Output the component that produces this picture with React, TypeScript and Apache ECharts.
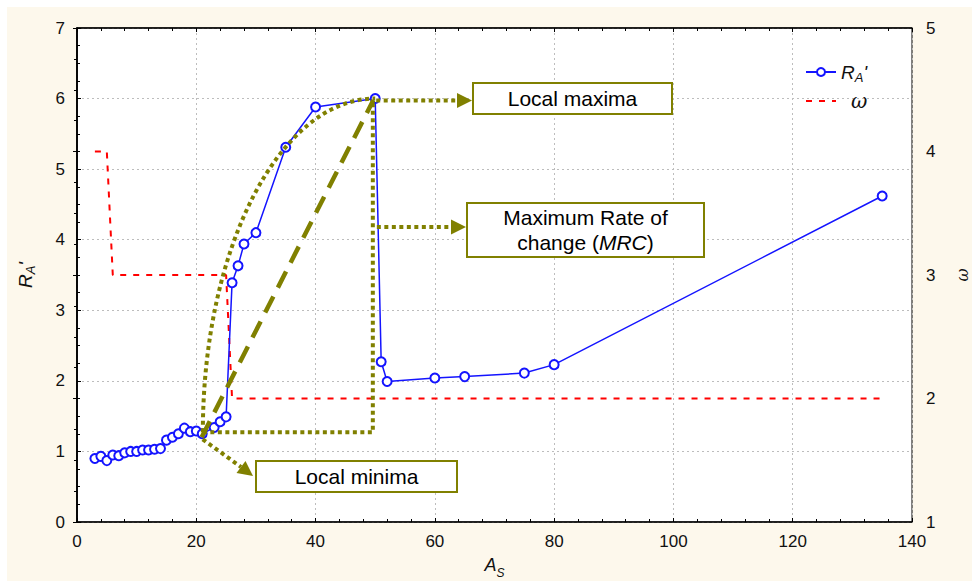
import React, { useEffect, useRef } from "react";
import * as echarts from "echarts";

// ---- data ----
const asValues = [3, 4, 5, 6, 7, 8, 9, 10, 11, 12, 13, 14, 15, 16, 17, 18, 19, 20, 21, 23, 24, 25, 26, 27, 28, 30, 35, 40, 50, 51, 52, 60, 65, 75, 80, 135];
const raValues = [0.9, 0.93, 0.87, 0.95, 0.94, 0.98, 1.0, 1.0, 1.02, 1.02, 1.03, 1.04, 1.16, 1.2, 1.25, 1.33, 1.28, 1.29, 1.25, 1.34, 1.42, 1.49, 3.39, 3.63, 3.94, 4.1, 5.31, 5.88, 6.0, 2.27, 1.99, 2.04, 2.06, 2.11, 2.23, 4.62];
const omegaX = [3, 5, 6, 25, 26, 135];
const omegaValues = [4, 4, 3, 3, 2, 2];

const xRange = [0, 140];
const leftRange = [0, 7];
const rightRange = [1, 5];

const annotationLabels = ["Local maxima", "Maximum Rate of\nchange ({it|MRC})", "Local minima"];

// annotation anchors in data coordinates
const localMinAnchor = [21.1, 1.27];
const localMaxAnchor = [50, 6.0];
const rectRightX = 49.6;
const dashStart = [20.9, 1.2];
const dashEnd = [49.7, 5.98];

const FONT = '"Liberation Sans", Arial, sans-serif';
const OLIVE = "#808000";

const richStyles = {
  i: { fontStyle: "italic", fontSize: 19, fontFamily: FONT, color: "#111", lineHeight: 24 },
  sub: { fontStyle: "italic", fontSize: 13, fontFamily: FONT, color: "#111", verticalAlign: "bottom", lineHeight: 24, padding: [9, 0, 0, 0] },
  o: { fontStyle: "italic", fontSize: 20, fontFamily: "DejaVu Serif, serif", color: "#111", lineHeight: 24, padding: [0, 0, 0, 10] },
};
const xNameRich = {
  i: { fontStyle: "italic", fontSize: 18, fontFamily: FONT, color: "#111", lineHeight: 18, verticalAlign: "top" },
  sub: { fontStyle: "italic", fontSize: 12, fontFamily: FONT, color: "#111", lineHeight: 23, verticalAlign: "bottom" },
};

export default function App() {
  const ref = useRef<HTMLDivElement>(null);
  useEffect(() => {
    document.body.style.margin = "0";
    const chart = echarts.init(ref.current!, null, { renderer: "svg", width: 972, height: 581 });
    const axisLabel = { fontSize: 17, fontFamily: FONT, color: "#111" };
    const axisLine = { show: true, lineStyle: { color: "#000", width: 1.5 } };
    const splitLine = { show: true, lineStyle: { color: "#bdbdbd", type: [2, 3], width: 1 } };
    const tick = { show: true, inside: true, length: 4, lineStyle: { color: "#000", width: 1 } };
    const minor = (n: number) => ({ show: true, splitNumber: n, length: 3, lineStyle: { color: "#000", width: 1 } });

    const option: any = {
      animation: false,
      grid: {
        left: 77, right: 60, top: 28, bottom: 59, show: true, backgroundColor: "#fff", borderColor: "#000", borderWidth: 1,
        containLabel: false, outerBoundsMode: "none",
      },
      legend: {
        left: 800,
        top: 57,
        orient: "vertical",
        itemWidth: 30,
        itemHeight: 10,
        itemGap: 7,
        data: [{ name: "RA" }, { name: "omega", itemStyle: { opacity: 0 } }],
        formatter: (name: string) => (name === "RA" ? "{i|R}{sub|A}{i|'}" : "{o|ω}"),
        textStyle: { rich: richStyles },
      },
      xAxis: [
        {
          type: "value", min: xRange[0], max: xRange[1], interval: 20, position: "bottom",
          axisLine, axisTick: tick, minorTick: minor(5), splitLine,
          axisLabel: { ...axisLabel, margin: 11 },
          name: "{i|A}{sub|S}", nameLocation: "middle", nameGap: 34,
          nameTextStyle: { rich: xNameRich, verticalAlign: "top" },
        },
        {
          type: "value", min: xRange[0], max: xRange[1], interval: 20, position: "top",
          axisLine, axisTick: tick, minorTick: minor(5), splitLine: { show: false },
          axisLabel: { show: false },
        },
      ],
      yAxis: [
        {
          type: "value", min: leftRange[0], max: leftRange[1], interval: 1, position: "left",
          axisLine, axisTick: tick, minorTick: minor(4), splitLine,
          axisLabel: { ...axisLabel, margin: 12 },
          name: "{i|R}{sub|A}{i|'}", nameLocation: "middle", nameGap: 40, nameRotate: 90,
          nameTextStyle: { rich: richStyles },
        },
        {
          type: "value", min: rightRange[0], max: rightRange[1], interval: 1, position: "right",
          axisLine, axisTick: tick, minorTick: minor(4), splitLine: { show: false },
          axisLabel: { ...axisLabel, margin: 14 },
          name: "{o|ω}", nameLocation: "middle", nameGap: 38, nameRotate: 90,
          nameTextStyle: { rich: { o: { ...richStyles.o, padding: 0, fontSize: 16 } } },
        },
      ],
      series: [
        {
          name: "RA", type: "line", xAxisIndex: 0, yAxisIndex: 0,
          data: asValues.map((x, i) => [x, raValues[i]]),
          symbol: "emptyCircle", symbolSize: 9, color: "#1414ff",
          itemStyle: { borderWidth: 1.5, borderColor: "#1414ff" },
          lineStyle: { color: "#1414ff", width: 1.5 },
          z: 3,
        },
        {
          name: "omega", type: "line", xAxisIndex: 0, yAxisIndex: 1,
          data: omegaX.map((x, i) => [x, omegaValues[i]]),
          symbol: "none", color: "#ff0000",
          lineStyle: { color: "#ff0000", width: 2, type: [6, 7] },
          z: 2,
        },
      ],
    };
    chart.setOption(option);

    const p = (x: number, y: number) => chart.convertToPixel({ xAxisIndex: 0, yAxisIndex: 0 }, [x, y]) as number[];
    const [sx, sy] = p(localMinAnchor[0], localMinAnchor[1]);
    const [ex, ey] = p(localMaxAnchor[0], localMaxAnchor[1]);
    const [rx] = p(rectRightX, 0);
    const [dsx, dsy] = p(dashStart[0], dashStart[1]);
    const [dex, dey] = p(dashEnd[0], dashEnd[1]);
    const k = 0.5523;

    const dotted = { stroke: OLIVE, lineWidth: 4, lineDash: [4, 3.5], fill: null };
    const head = (tx: number, ty: number, dx: number, dy: number, len = 15, half = 7.5) => {
      const n = Math.hypot(dx, dy);
      const ux = dx / n, uy = dy / n;
      const bx = tx - ux * len, by = ty - uy * len;
      return {
        type: "polygon", z: 100,
        shape: { points: [[tx, ty], [bx - uy * half, by + ux * half], [bx + uy * half, by - ux * half]] },
        style: { fill: OLIVE },
      };
    };
    const box = (x: number, y: number, w: number, h: number, text: string) => [
      { type: "rect", z: 100, shape: { x, y, width: w, height: h }, style: { fill: "#fff", stroke: OLIVE, lineWidth: 2 } },
      {
        type: "text", z: 101, x: x + w / 2, y: y + h / 2,
        style: {
          text, fontSize: 21, fontFamily: FONT, fill: "#000", align: "center", verticalAlign: "middle",
          lineHeight: 25, rich: { it: { fontStyle: "italic", fontSize: 21, fontFamily: FONT, fill: "#000", lineHeight: 25 } },
        },
      },
    ];

    const minTipX = 253, minTipY = 476;
    const graphic: any[] = [
      {
        type: "bezierCurve", z: 99,
        shape: { x1: sx, y1: sy, cpx1: sx, cpy1: sy - k * (sy - ey), cpx2: ex - k * (ex - sx), cpy2: ey, x2: ex, y2: ey },
        style: dotted,
      },
      { type: "polyline", z: 99, shape: { points: [[sx, sy], [rx, sy], [rx, ey + 2]] }, style: dotted },
      { type: "line", z: 99, shape: { x1: dsx, y1: dsy, x2: dex, y2: dey }, style: { stroke: OLIVE, lineWidth: 4.5, lineDash: [18, 10] } },
      { type: "line", z: 99, shape: { x1: ex + 1, y1: ey + 2, x2: 457, y2: ey + 2 }, style: dotted },
      head(472, ey + 2, 1, 0),
      { type: "line", z: 99, shape: { x1: rx + 4, y1: 227, x2: 452, y2: 227 }, style: dotted },
      head(466, 227, 1, 0),
      { type: "line", z: 99, shape: { x1: dsx + 1, y1: dsy + 2, x2: minTipX - 12, y2: minTipY - 9 }, style: dotted },
      head(minTipX, minTipY, minTipX - dsx, minTipY - dsy),
      ...box(473, 83, 199, 31, annotationLabels[0]),
      ...box(467, 203, 237, 54, annotationLabels[1]),
      ...box(256, 461, 201, 31, annotationLabels[2]),
    ];
    chart.setOption({ graphic });
    return () => chart.dispose();
  }, []);

  return (
    <div style={{ position: "fixed", left: 0, top: 0, width: 972, height: 581, background: "#fff" }}>
      <div style={{ position: "absolute", left: 7, top: 7, right: 0, bottom: 0, background: "#fdf8ec" }} />
      <div ref={ref} style={{ position: "absolute", left: 0, top: 0, width: 972, height: 581 }} />
    </div>
  );
}
